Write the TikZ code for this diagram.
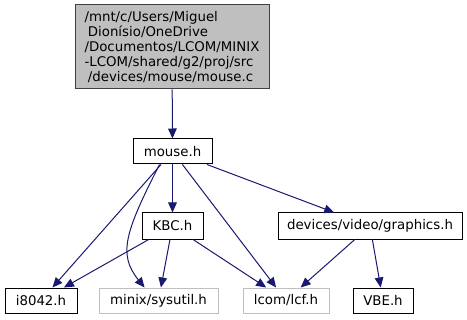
\documentclass[tikz,border=0pt]{standalone}
\usepackage{fontspec}
\setmainfont{DejaVu Sans}
\usetikzlibrary{arrows.meta}

\definecolor{edgeblue}{HTML}{191970}
\definecolor{missgray}{HTML}{BFBFBF}

\begin{document}
\begin{tikzpicture}[x=0.75pt, y=0.75pt,
  every node/.style={font=\fontsize{10}{11.25}\selectfont, inner sep=0pt},
  file/.style={rectangle, draw=black, line width=0.75pt, minimum height=25*0.75pt},
  missing/.style={file, draw=missgray},
  dep/.style={draw=edgeblue, line width=0.75pt, -{Triangle[length=7.5pt,width=6.5pt]}}]

\useasboundingbox (0,0) rectangle (467,-320);

% the source file itself
\node[file, draw=black!75, fill=missgray, minimum width=194*0.75pt, minimum height=84*0.75pt, align=left]
     (mousec) at (172,-47)
     {/mnt/c/Users/Miguel\\
      \hspace*{2.5pt}Dionísio/OneDrive\\
      /Documentos/LCOM/MINIX\\
      -LCOM/shared/g2/proj/src\\
      \hspace*{2.5pt}/devices/mouse/mouse.c};

% headers
\node[file, minimum width=79*0.75pt] (mouse) at (172.5,-151.5) {mouse.h};
\node[file, minimum width=61*0.75pt, minimum height=26*0.75pt] (kbc) at (172.5,-226) {KBC.h};
\node[file, minimum width=184*0.75pt, minimum height=26*0.75pt] (graphics) at (370,-226) {devices/video/graphics.h};

% bottom row
\node[file, minimum width=72*0.75pt] (i8042) at (41,-300.5) {i8042.h};
\node[missing, minimum width=119*0.75pt] (sysutil) at (158.5,-300.5) {minix/sysutil.h};
\node[missing, minimum width=86*0.75pt] (lcf) at (286,-300.5) {lcom/lcf.h};
\node[file, minimum width=60*0.75pt] (vbe) at (383,-300.5) {VBE.h};

% includes
\draw[dep] (mousec) -- (mouse);
\draw[dep] (mouse) -- (i8042);
\draw[dep] (mouse.-135) to[out=-117, in=129, out distance=57pt, in distance=32pt] (sysutil.137);
\draw[dep] (mouse) -- (kbc);
\draw[dep] (mouse) -- (lcf);
\draw[dep] (mouse) -- (graphics);
\draw[dep] (kbc) -- (i8042);
\draw[dep] (kbc) -- (sysutil);
\draw[dep] (kbc) -- (lcf);
\draw[dep] (graphics) -- (lcf);
\draw[dep] (graphics) -- (vbe);

\end{tikzpicture}
\end{document}
